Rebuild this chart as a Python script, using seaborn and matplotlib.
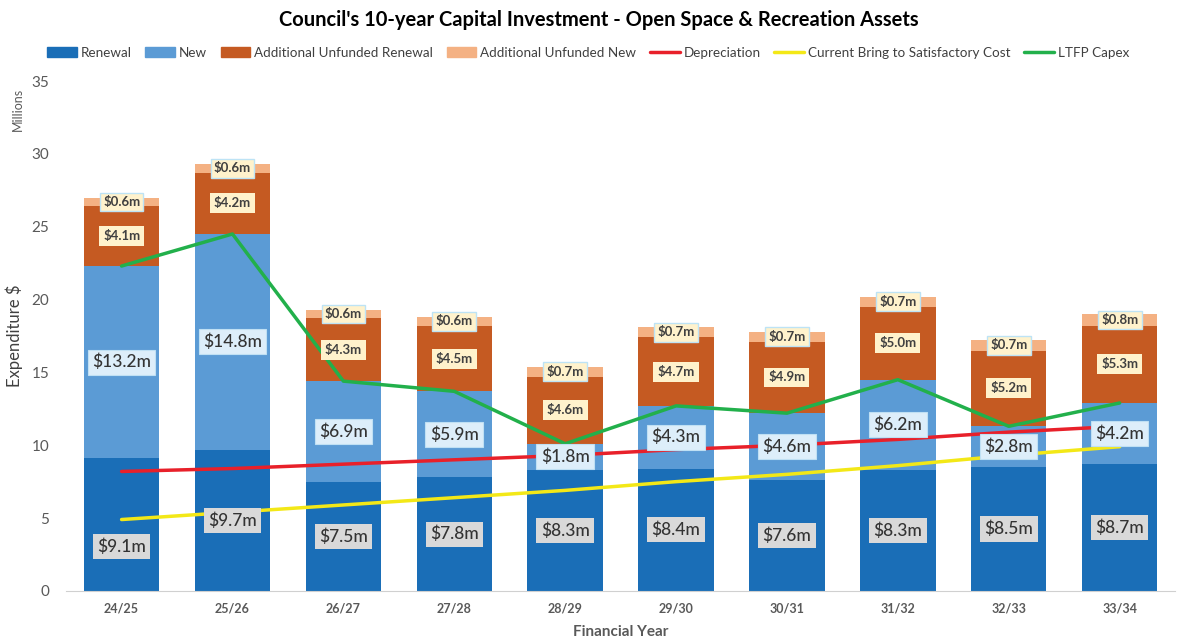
import numpy as np
import pandas as pd
import seaborn as sns
import matplotlib.pyplot as plt
from matplotlib.patches import Patch
from matplotlib.lines import Line2D

# Data (millions)
years = ["24/25", "25/26", "26/27", "27/28", "28/29", "29/30", "30/31", "31/32", "32/33", "33/34"]
renewal = [9.1, 9.7, 7.5, 7.8, 8.3, 8.4, 7.6, 8.3, 8.5, 8.7]
new = [13.2, 14.8, 6.9, 5.9, 1.8, 4.3, 4.6, 6.2, 2.8, 4.2]
unf_renewal = [4.1, 4.2, 4.3, 4.5, 4.6, 4.7, 4.9, 5.0, 5.2, 5.3]
unf_new = [0.6, 0.6, 0.6, 0.6, 0.7, 0.7, 0.7, 0.7, 0.7, 0.8]
depreciation = [8.2, 8.4, 8.7, 9.0, 9.3, 9.7, 10.0, 10.4, 10.9, 11.3]
bring_to_sat = [4.9, 5.4, 5.9, 6.4, 6.9, 7.5, 8.0, 8.6, 9.3, 9.9]
ltfp_capex = [22.3, 24.5, 14.4, 13.7, 10.1, 12.7, 12.2, 14.5, 11.3, 12.9]

c_ren, c_new, c_ur, c_un = "#1a6eb7", "#5b9bd5", "#c55a22", "#f4b183"
c_dep, c_sat, c_ltfp = "#e8202a", "#f3e817", "#22b04b"

df = pd.DataFrame({"year": years, "renewal": renewal, "new": new,
                   "unf_renewal": unf_renewal, "unf_new": unf_new})
b1 = df["renewal"].values
b2 = b1 + df["new"].values
b3 = b2 + df["unf_renewal"].values

sns.set_style("white")
plt.rcParams["font.family"] = ["Lato", "DejaVu Sans"]

fig = plt.figure(figsize=(11.81, 6.43), dpi=100)
ax = fig.add_axes([0.056, 0.081, 0.939, 0.793])

w = 0.68
kw = dict(width=w, saturation=1, linewidth=0, ax=ax)
sns.barplot(data=df, x="year", y="renewal", color=c_ren, **kw)
sns.barplot(data=df, x="year", y="new", color=c_new, bottom=b1, **kw)
sns.barplot(data=df, x="year", y="unf_renewal", color=c_ur, bottom=b2, **kw)
sns.barplot(data=df, x="year", y="unf_new", color=c_un, bottom=b3, **kw)

xs = np.arange(len(years))
sns.lineplot(x=xs, y=depreciation, color=c_dep, lw=2.5, ax=ax)
sns.lineplot(x=xs, y=bring_to_sat, color=c_sat, lw=2.5, ax=ax)
sns.lineplot(x=xs, y=ltfp_capex, color=c_ltfp, lw=2.5, ax=ax)

# data labels
for i in range(len(years)):
    yr = renewal[i] / 2 - (1.5 if i == 0 else 0)
    ax.text(i, yr, f"${renewal[i]:.1f}m", ha="center", va="center", fontsize=12.5, color="#333333",
            fontweight="medium", bbox=dict(boxstyle="square,pad=0.25", fc="#d9d9d9", ec="none"))
    ax.text(i, b1[i] + new[i] / 2, f"${new[i]:.1f}m", ha="center", va="center", fontsize=12.5, color="#333333",
            fontweight="medium", bbox=dict(boxstyle="square,pad=0.25", fc="#ddeefa", ec="#bfe0f4", lw=0.8))
    ax.text(i, b2[i] + unf_renewal[i] / 2, f"${unf_renewal[i]:.1f}m", ha="center", va="center", fontsize=9.5,
            fontweight="bold", color="#404040",
            bbox=dict(boxstyle="square,pad=0.3", fc="#fff2cc", ec="none"))
    ax.text(i, b3[i] + unf_new[i] / 2, f"${unf_new[i]:.1f}m", ha="center", va="center", fontsize=9.5,
            fontweight="bold", color="#404040",
            bbox=dict(boxstyle="square,pad=0.25", fc="#fff2cc", ec="#bde3f5", lw=1))

ax.set_xlim(-0.5, 9.5)
ax.set_ylim(0, 35)
ax.set_yticks(range(0, 36, 5))
for s in ["top", "right", "left"]:
    ax.spines[s].set_visible(False)
ax.spines["bottom"].set_color("#d0d0d0")
ax.tick_params(axis="y", length=0, labelsize=11, labelcolor="#595959", pad=12)
ax.tick_params(axis="x", length=0, labelsize=9, labelcolor="#595959", pad=8)
for t in ax.get_xticklabels():
    t.set_fontweight("bold")
ax.set_xlabel("Financial Year", fontsize=11, fontweight="bold", color="#595959", labelpad=8)
ax.set_ylabel("Expenditure $", fontsize=12, color="#404040", labelpad=6)
fig.text(0.015, 0.83, "Millions", rotation=90, fontsize=9, color="#595959", ha="center", va="center")

fig.suptitle("Council's 10-year Capital Investment - Open Space & Recreation Assets",
             x=0.507, y=0.985, fontsize=14.5, fontweight="bold", color="#000000")

handles = [Patch(color=c_ren, label="Renewal"), Patch(color=c_new, label="New"),
           Patch(color=c_ur, label="Additional Unfunded Renewal"),
           Patch(color=c_un, label="Additional Unfunded New"),
           Line2D([], [], color=c_dep, lw=2.5, label="Depreciation"),
           Line2D([], [], color=c_sat, lw=2.5, label="Current Bring to Satisfactory Cost"),
           Line2D([], [], color=c_ltfp, lw=2.5, label="LTFP Capex")]
fig.legend(handles=handles, loc="center", bbox_to_anchor=(0.498, 0.918), ncol=7, frameon=False,
           fontsize=9.7, handlelength=2.2, handleheight=0.8, handletextpad=0.3, columnspacing=1.0,
           labelcolor="#404040")

fig.savefig("out.png", dpi=100)
